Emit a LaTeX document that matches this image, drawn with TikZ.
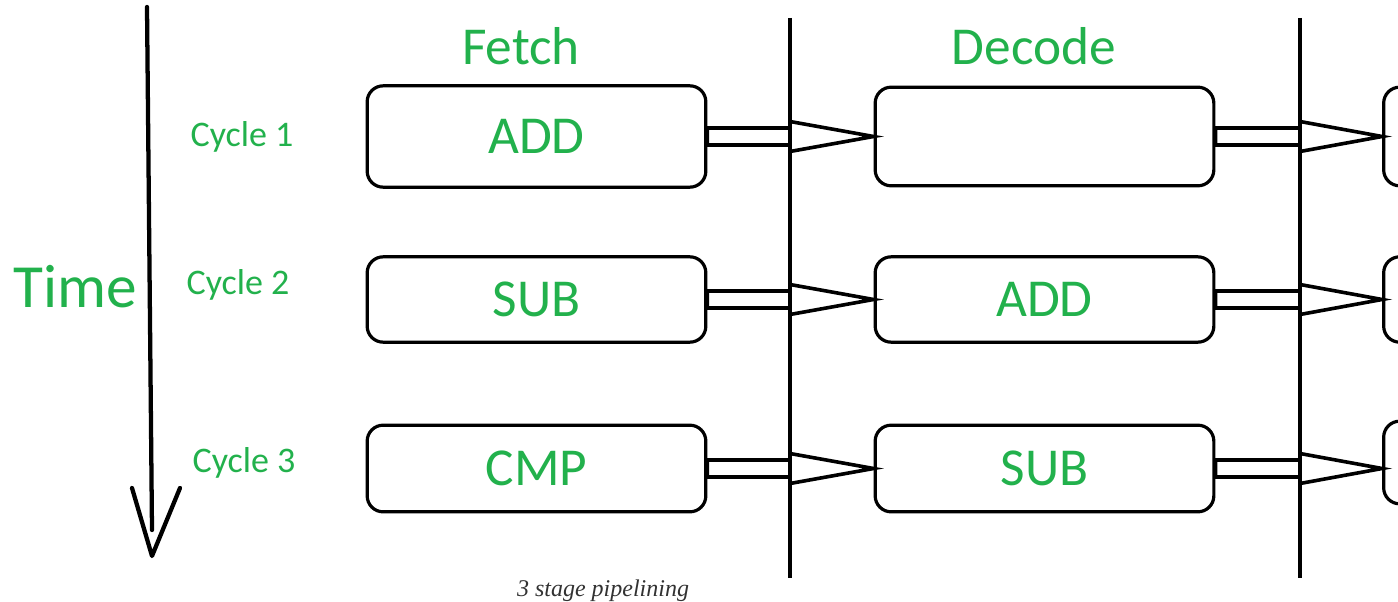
\documentclass[tikz,border=0pt]{standalone}
\usepackage{fontspec}
\setmainfont{Carlito}
\newfontfamily\capfont{Liberation Serif}
\usetikzlibrary{arrows.meta,calc}
\definecolor{StageGreen}{RGB}{34,177,76}
\definecolor{CapGray}{RGB}{50,50,50}
\tikzset{
  >=Latex,
  stagebox/.style={draw=black,line width=2.4pt,rounded corners=12pt,fill=white,align=center,text=StageGreen,font=\fontsize{40}{44}\selectfont,minimum width=254pt,minimum height=64pt,inner sep=0pt},
  head/.style={text=StageGreen,font=\fontsize{40}{44}\selectfont,inner sep=0pt},
  cyclelabel/.style={text=StageGreen,font=\fontsize{27}{30}\selectfont,inner sep=0pt},
  timelabel/.style={text=StageGreen,font=\fontsize{46}{50}\selectfont,inner sep=0pt},
  caption/.style={text=CapGray,font=\capfont\itshape\fontsize{18}{20}\selectfont,inner sep=0pt},
  divider/.style={line width=2.3pt,draw=black},
  pass/.style={line width=2.7pt,draw=black,fill=white,line join=miter},
  timeline/.style={line width=3.2pt,draw=black,line cap=round,line join=round}
}
\begin{document}
\begin{tikzpicture}[x=0.75pt,y=-0.75pt]
  \clip (0,0) rectangle (1398,602);
  % time axis
  \coordinate (tTop) at (147,7);
  \coordinate (tEnd) at (152,530);
  \coordinate (tTip) at (152,556);
  \draw[timeline] (tTop) -- (tEnd);
  \draw[timeline] ($(tTip)+(-20,-68)$) -- (tTip) -- ($(tTip)+(28,-68)$);
  \node[timelabel] (time) at (75,287) {Time};
  \node[cyclelabel] (c1) at (242,137) {Cycle 1};
  \node[cyclelabel] (c2) at (238,285) {Cycle 2};
  \node[cyclelabel] (c3) at (244,463) {Cycle 3};
  % stage headers
  \node[head] (hf) at (521,46) {Fetch};
  \node[head] (hd) at (1034,46) {Decode};
  % stage boundaries
  \coordinate (sepA) at (790,18);
  \coordinate (sepB) at (1300,18);
  % fetch column
  \node[stagebox,minimum height=76pt] (f1) at (536.5,136.5) {ADD};
  \node[stagebox] (f2) at (536.5,299.5) {SUB};
  \node[stagebox,minimum height=65pt] (f3) at (536.5,468.5) {CMP};
  % decode column
  \node[stagebox,minimum height=74pt] (d1) at (1044.5,136.5) {};
  \node[stagebox] (d2) at (1044.5,299.5) {ADD};
  \node[stagebox,minimum height=65pt] (d3) at (1044.5,468.5) {SUB};
  % execute column, cut at the edge
  \node[stagebox,minimum height=74pt] (e1) at (1553,136.5) {};
  \node[stagebox] (e2) at (1553,299.5) {};
  \node[stagebox,minimum height=62pt] (e3) at (1553,462.5) {};
  % hand-over arrows
  \foreach \a/\b/\s in {f1/d1/sepA,f2/d2/sepA,f3/d3/sepA,d1/e1/sepB,d2/e2/sepB,d3/e3/sepB}{
    \draw[pass] ($(\a.east)+(0,-8.5)$) -- ($(\s |- \a.east)+(0,-8.5)$)
      -- ($(\s |- \a.east)+(0,-15)$) -- (\b.west |- \a.east)
      -- ($(\s |- \a.east)+(0,15)$) -- ($(\s |- \a.east)+(0,8.5)$)
      -- ($(\a.east)+(0,8.5)$) -- cycle;
  }
  \draw[divider] (sepA) -- (790,578);
  \draw[divider] (sepB) -- (1300,578);
  \node[caption] (cap) at (603,591) {3 stage pipelining};
\end{tikzpicture}
\end{document}
